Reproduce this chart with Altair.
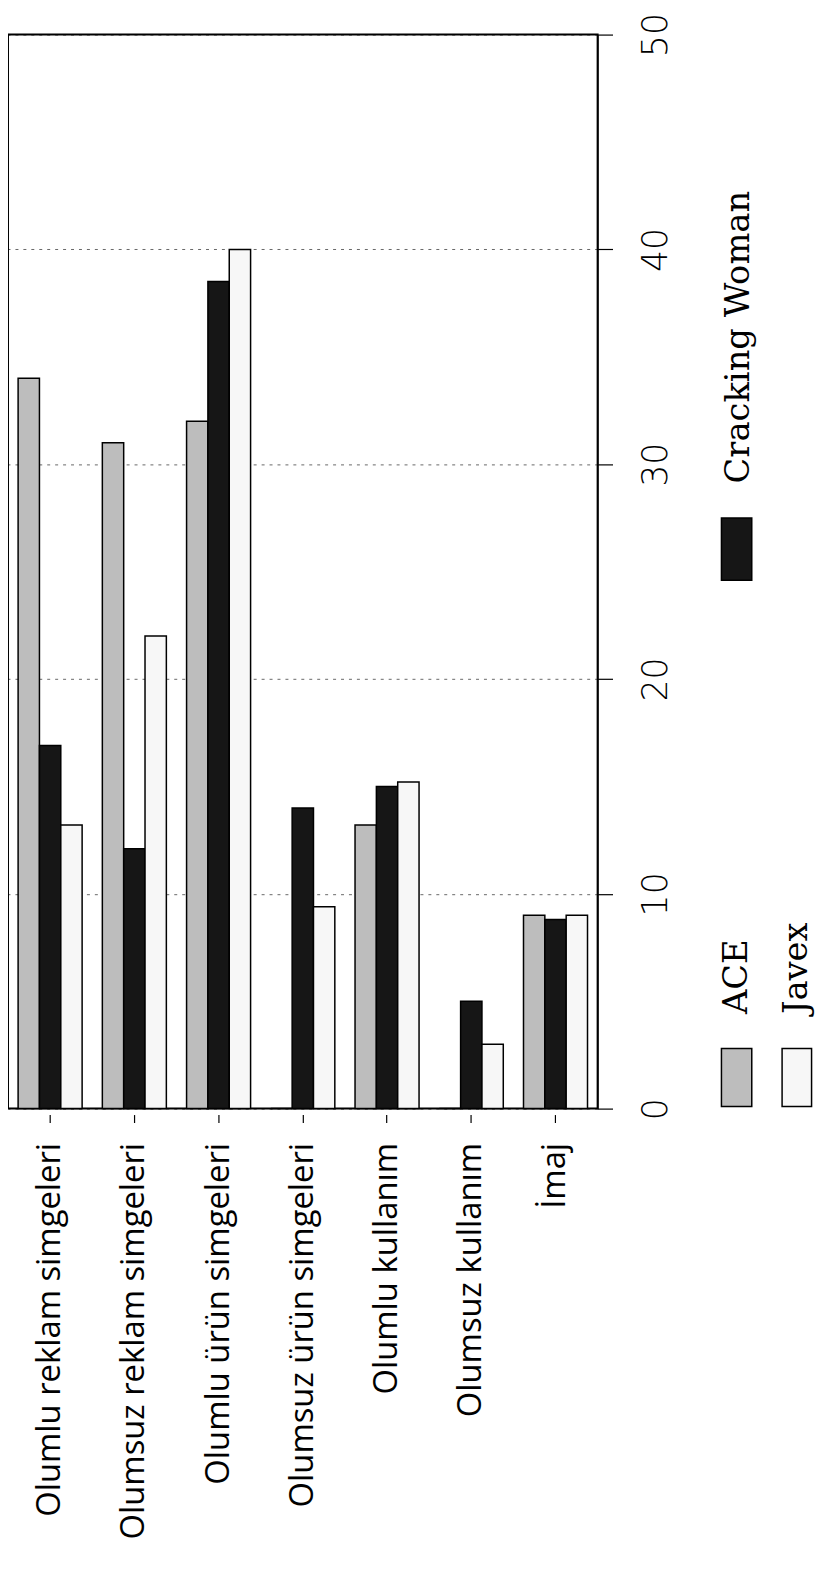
import altair as alt
import pandas as pd

categories = [
    "Olumlu reklam simgeleri",
    "Olumsuz reklam simgeleri",
    "Olumlu ürün simgeleri",
    "Olumsuz ürün simgeleri",
    "Olumlu kullanım",
    "Olumsuz kullanım",
    "İmaj",
]
series = ["ACE", "Cracking Woman", "Javex"]
ace = [34.0, 31.0, 32.0, 0.0, 13.2, 0.0, 9.0]
cracking = [16.9, 12.1, 38.5, 14.0, 15.0, 5.0, 8.8]
javex = [13.2, 22.0, 40.0, 9.4, 15.2, 3.0, 9.0]
fills = ["#bdbdbd", "#161616", "#f7f7f7"]
y_ticks = [0, 10, 20, 30, 40, 50]

# legend layout (in category-slot units horizontally, value units vertically)
legend_x0 = [8.47, 8.47, 9.19]
legend_x1 = [8.83, 8.83, 9.54]
legend_y0 = [0.1, 24.6, 0.1]
legend_y1 = [2.8, 27.5, 2.8]
legend_tx = [8.77, 8.80, 9.49]
legend_ty = [4.4, 29.1, 4.4]

rows = []
for s, vals in zip(series, [ace, cracking, javex]):
    for c, v in zip(categories, vals):
        rows.append({"category": c, "series": s, "value": v})
df = pd.DataFrame(rows)

legend_df = pd.DataFrame({
    "series": series,
    "x0": legend_x0, "x1": legend_x1,
    "y0": legend_y0, "y1": legend_y1,
    "tx": legend_tx, "ty": legend_ty,
})

fill_scale = alt.Scale(domain=series, range=fills)
slot_scale = alt.Scale(domain=[0, 7], nice=False, zero=False)

bars = alt.Chart(df).mark_bar(stroke="black", strokeWidth=1.5).encode(
    x=alt.X(
        "category:N", sort=categories,
        scale=alt.Scale(paddingInner=0.24, paddingOuter=0.12),
        axis=alt.Axis(
            title=None, labelAngle=270, labelAlign="right", labelBaseline="middle",
            labelFont="Open Sans", labelFontSize=33, labelColor="black",
            labelLimit=800, labelPadding=20, tickSize=8, tickColor="black",
            tickWidth=1.2, domain=False, offset=6, grid=False,
        ),
    ),
    xOffset=alt.XOffset("series:N", sort=series,
                        scale=alt.Scale(domain=series, paddingInner=0, paddingOuter=0)),
    y=alt.Y(
        "value:Q", scale=alt.Scale(domain=[0, 50], nice=False),
        axis=alt.Axis(
            title=None, orient="right", values=y_ticks, tickSize=15,
            tickColor="black", tickWidth=1.2, domainColor="black",
            labelAngle=270, labelAlign="center", labelBaseline="top",
            labelFont="DejaVu Sans", labelFontWeight=200, labelFontSize=35,
            labelColor="black", labelPadding=26,
            grid=True, gridColor="black", gridDash=[3, 5], gridOpacity=0.6,
        ),
    ),
    fill=alt.Fill("series:N", scale=fill_scale, legend=None),
)

leg_boxes = alt.Chart(legend_df).mark_rect(stroke="black", strokeWidth=1.5).encode(
    x=alt.X("x0:Q", scale=slot_scale, axis=None),
    x2="x1:Q",
    y=alt.Y("y0:Q", title=None),
    y2="y1:Q",
    fill=alt.Fill("series:N", scale=fill_scale, legend=None),
)

leg_text = alt.Chart(legend_df).mark_text(
    angle=270, align="left", baseline="alphabetic",
    font="DejaVu Serif", fontSize=34, color="black",
).encode(
    x=alt.X("tx:Q", scale=slot_scale, axis=None),
    y=alt.Y("ty:Q", title=None),
    text="series:N",
)

chart = alt.layer(bars, leg_boxes, leg_text).resolve_scale(
    x="independent"
).properties(
    width=594, height=1082,
    autosize=alt.AutoSizeParams(type="none"),
    padding={"left": 0, "top": 21, "right": 220, "bottom": 455},
    background="white",
).configure_view(stroke="black", strokeWidth=2)

chart.save("out.html", embed_options={"renderer": "svg", "actions": False})
